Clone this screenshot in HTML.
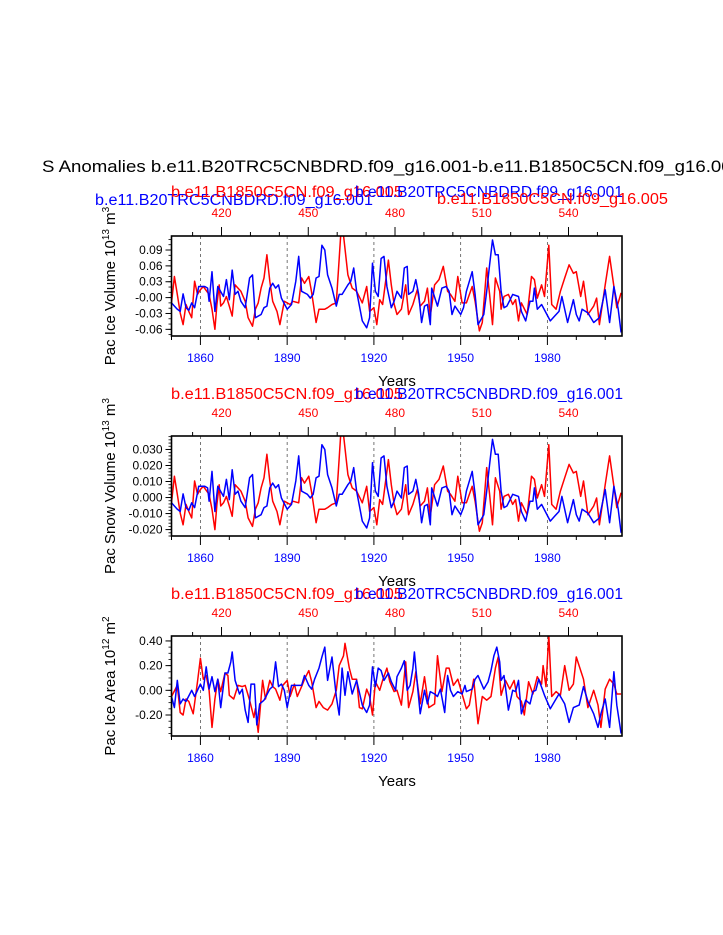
<!DOCTYPE html>
<html><head><meta charset="utf-8"><style>
html,body{margin:0;padding:0;background:#fff;overflow:hidden;}
svg{display:block;font-family:"Liberation Sans",Arial,sans-serif;}
</style></head><body>
<svg id="c" width="723" height="935" viewBox="0 0 723 935" xmlns="http://www.w3.org/2000/svg">
<text x="42" y="172" font-size="17" fill="#000" textLength="700" lengthAdjust="spacingAndGlyphs">S Anomalies b.e11.B20TRC5CNBDRD.f09_g16.001-b.e11.B1850C5CN.f09_g16.005</text>
</svg>
<script>
// ---------- data ----------
const bottomTicks = [1860, 1890, 1920, 1950, 1980];
const topTicks = [420, 450, 480, 510, 540];
const iceTicks = [0.09, 0.06, 0.03, 0.00, -0.03, -0.06];
const iceTickLabels = ["0.09", "0.06", "0.03", "-0.00", "-0.03", "-0.06"];
const snowTicks = [0.03, 0.02, 0.01, 0.0, -0.01, -0.02];
const snowTickLabels = ["0.030", "0.020", "0.010", "0.000", "-0.010", "-0.020"];
const areaTicks = [0.4, 0.2, 0.0, -0.2];
const areaTickLabels = ["0.40", "0.20", "0.00", "-0.20"];

const blueYears = [1850,1852,1853,1854,1855,1856,1857,1858,1859.4,1861.5,1862.5,1863,1864,1865,1866,1868,1869,1870,1871,1872,1873,1874,1875.5,1877,1878,1879,1881,1882,1883,1884,1885,1886,1887,1888,1890,1891.5,1893,1894,1895,1897,1898,1899,1900,1901,1902,1903,1904,1905.5,1907,1908,1909,1911,1912,1913,1914,1916,1917.5,1918.5,1919.5,1920.5,1921.5,1922.5,1923.5,1924.5,1926,1927,1928,1929.5,1930.5,1931.5,1932,1933.5,1934.5,1935.5,1936.5,1937.5,1938.5,1939.5,1940,1942,1943.5,1945,1946,1947,1948,1950,1951,1952,1954,1955,1956,1958,1959,1960,1961,1962,1963,1964,1965,1966,1968,1970,1971,1972.5,1974,1975,1975.5,1976.5,1978,1981,1982.5,1984,1985,1987,1989,1990,1991,1992,1994,1996,1998,2000,2001.5,2003,2004.5,2005.5];
const iceBlue = [-0.010,-0.022,-0.026,0.007,-0.019,-0.024,-0.010,-0.019,0.021,0.021,0.018,-0.007,0.049,-0.026,0.021,0.002,0.034,-0.004,0.052,0.006,0.012,-0.007,-0.019,0.037,0.043,-0.038,-0.032,-0.019,-0.016,0.018,0.027,0.018,0.024,-0.001,-0.022,-0.013,0.031,0.078,0.012,0.006,-0.001,0.006,0.037,0.040,0.099,0.090,0.043,0.018,-0.016,0.006,0.006,0.024,0.031,0.056,0.012,-0.044,-0.057,-0.038,0.065,0.012,0.002,0.074,0.078,0.021,-0.019,-0.007,0.012,-0.001,0.056,0.059,0.006,0.012,0.034,0.006,-0.047,-0.016,-0.013,-0.051,0.018,-0.016,0.018,0.021,0.012,-0.032,-0.016,-0.032,-0.019,0.012,0.049,0.006,-0.051,-0.032,0.012,0.062,0.109,0.081,0.081,0.012,-0.019,-0.016,0.006,0.002,-0.026,-0.044,-0.007,-0.007,0.018,-0.022,-0.013,-0.044,-0.035,-0.026,0.002,-0.047,-0.004,-0.032,-0.044,-0.022,-0.029,-0.047,-0.038,0.015,-0.047,0.021,-0.022,-0.066];
const snowBlue = [-0.0033,-0.0073,-0.0087,0.0023,-0.0063,-0.008,-0.0033,-0.0063,0.007,0.007,0.006,-0.0023,0.0163,-0.0087,0.007,0.0007,0.0113,-0.0013,0.0173,0.002,0.004,-0.0023,-0.0063,0.0123,0.0143,-0.0127,-0.0107,-0.0063,-0.0053,0.006,0.009,0.006,0.008,-0.0003,-0.0073,-0.0043,0.0103,0.026,0.004,0.002,-0.0003,0.002,0.0123,0.0133,0.033,0.030,0.0143,0.006,-0.0053,0.002,0.002,0.008,0.0103,0.0187,0.004,-0.0147,-0.019,-0.0127,0.0217,0.004,0.0007,0.0247,0.026,0.007,-0.0063,-0.0023,0.004,-0.0003,0.0187,0.0197,0.002,0.004,0.0113,0.002,-0.0157,-0.0053,-0.0043,-0.017,0.006,-0.0053,0.006,0.007,0.004,-0.0107,-0.0053,-0.0107,-0.0063,0.004,0.0163,0.002,-0.017,-0.0107,0.004,0.0207,0.0363,0.027,0.027,0.004,-0.0063,-0.0053,0.002,0.0007,-0.0087,-0.0147,-0.0023,-0.0023,0.006,-0.0073,-0.0043,-0.0147,-0.0117,-0.0087,0.0007,-0.0157,-0.0013,-0.0107,-0.0147,-0.0073,-0.0097,-0.0157,-0.0127,0.005,-0.0157,0.007,-0.0073,-0.022];

const redYears = [1850,1851,1852,1853,1854,1855,1856,1857,1858,1859,1860,1861,1863,1864,1865,1865.7,1866.5,1867,1868,1869,1870,1871,1872,1873,1874,1875.5,1876.5,1878,1879,1880,1881,1882,1883,1884,1885,1886.5,1887.5,1889,1890,1891,1892,1894,1895,1896,1897.5,1898.5,1900,1901,1903,1904,1905.5,1907,1908,1908.5,1909.5,1911,1912.5,1914,1916,1917.5,1918.5,1920,1921,1922,1923,1925,1926,1927,1928,1929.5,1931,1932,1933.5,1935,1936,1937.5,1938.5,1939.5,1941,1942.5,1944,1945.5,1946.5,1948,1949,1950.5,1952,1954,1955,1956.5,1957.5,1959,1960,1961,1962,1963.5,1964,1965,1966.5,1968,1969,1970,1971,1973,1974.5,1975.5,1976.5,1978,1979,1980.5,1981.5,1983,1984.5,1986,1987.5,1989,1990,1991.5,1992.5,1994,1996,1997,1998,2000,2001.5,2003,2004,2005.5];
const iceRed = [-0.010,0.040,0.006,-0.029,-0.051,-0.013,-0.026,-0.038,0.031,0.006,0.015,0.021,0.006,-0.022,-0.060,-0.013,0.024,-0.016,-0.010,0.002,-0.016,-0.035,0.024,0.018,0.012,-0.007,-0.038,-0.054,-0.022,-0.010,0.018,0.037,0.081,0.031,-0.007,-0.026,-0.051,-0.007,-0.010,-0.013,-0.007,-0.010,0.037,0.027,0.040,0.009,-0.047,-0.022,-0.022,-0.019,-0.013,-0.010,0.074,0.118,0.118,0.043,0.018,0.012,-0.010,0.021,-0.026,-0.019,-0.051,-0.004,-0.013,0.071,0.024,-0.012,-0.032,-0.022,0.024,-0.032,-0.013,0.015,-0.016,-0.007,0.018,-0.035,0.024,0.034,0.059,0.012,0.006,-0.007,0.040,-0.010,-0.010,0.021,-0.007,-0.063,-0.047,0.056,0.006,-0.051,0.037,0.012,-0.022,0.002,0.006,-0.013,-0.004,-0.044,-0.010,-0.032,0.040,0.034,-0.001,0.024,0.002,0.099,-0.013,-0.022,0.012,0.037,0.062,0.046,0.049,0.002,0.031,-0.032,-0.016,-0.001,-0.051,0.024,0.078,0.021,-0.019,0.009];
const snowRed = [-0.0033,0.0133,0.002,-0.0097,-0.017,-0.0043,-0.0087,-0.0127,0.0103,0.002,0.005,0.007,0.002,-0.0073,-0.020,-0.0043,0.008,-0.0053,-0.0033,0.0007,-0.0053,-0.0117,0.008,0.006,0.004,-0.0023,-0.0127,-0.018,-0.0073,-0.0033,0.006,0.0123,0.027,0.0103,-0.0023,-0.0087,-0.017,-0.0023,-0.0033,-0.0043,-0.0023,-0.0033,0.0123,0.009,0.0133,0.003,-0.0157,-0.0073,-0.0073,-0.0063,-0.0043,-0.0033,0.0247,0.0393,0.0393,0.0143,0.006,0.004,-0.0033,0.007,-0.0087,-0.0063,-0.017,-0.0013,-0.0043,0.0237,0.008,-0.004,-0.0107,-0.0073,0.008,-0.0107,-0.0043,0.005,-0.0053,-0.0023,0.006,-0.0117,0.008,0.0113,0.0197,0.004,0.002,-0.0023,0.0133,-0.0033,-0.0033,0.007,-0.0023,-0.021,-0.0157,0.0187,0.002,-0.017,0.0123,0.004,-0.0073,0.0007,0.002,-0.0043,-0.0013,-0.0147,-0.0033,-0.0107,0.0133,0.0113,-0.0003,0.008,0.0007,0.033,-0.0043,-0.0073,0.004,0.0123,0.0207,0.0153,0.0163,0.0007,0.0103,-0.0107,-0.0053,-0.0003,-0.017,0.008,0.026,0.007,-0.0063,0.003];

const areaBlueYears = [1850,1851,1852,1853,1854,1855,1857,1858,1860,1861,1862,1863,1864,1865,1866,1867,1868.5,1869.5,1870.5,1871,1872,1873.5,1874.5,1875.5,1876.5,1877.5,1878.7,1879.5,1880.5,1882,1884,1885,1886,1887,1888,1889,1890,1891.5,1893,1895,1896,1897.5,1898.5,1899.5,1901,1902,1903,1904,1905.5,1907,1908,1909,1910,1911,1912.5,1914,1916,1917.5,1918.5,1919.5,1920.5,1921.5,1922.5,1923.5,1925,1926,1927.5,1928,1929.5,1930.5,1931.5,1932.5,1933.5,1934,1935,1936,1937.5,1938.5,1939.5,1941,1942,1943,1944.5,1945.5,1946.5,1947.5,1949,1950.5,1951.5,1952,1954,1955,1956,1958,1959.5,1960.5,1961.5,1962.5,1963.5,1964,1965,1966.5,1968,1969,1970,1971,1972.5,1974,1975,1976,1977,1979,1981,1982.5,1984,1986,1987.5,1989,1991,1992.5,1994,1996,1997.5,1998.5,2000,2001.5,2003,2004,2005.5];
const areaBlue = [-0.05,-0.14,0.08,-0.11,-0.07,-0.09,0.00,-0.05,0.05,0.00,0.19,0.01,0.11,-0.01,0.09,-0.14,0.14,0.14,0.23,0.31,0.08,-0.03,0.01,-0.16,-0.26,0.05,0.05,-0.28,-0.11,-0.08,0.01,0.03,0.23,0.03,0.05,0.00,-0.14,0.04,0.04,0.04,0.12,0.04,0.01,0.09,0.18,0.27,0.35,0.08,0.27,-0.05,-0.20,0.18,-0.04,0.15,-0.03,0.08,-0.12,-0.18,-0.12,0.19,0.03,0.18,0.16,0.08,0.14,0.07,0.00,0.11,0.18,0.24,0.00,0.04,0.18,0.31,0.05,-0.19,0.00,-0.11,-0.01,-0.03,-0.05,0.01,-0.18,0.12,0.00,-0.05,-0.01,-0.03,0.04,-0.01,0.01,0.09,0.12,0.01,0.07,0.16,0.28,0.35,0.23,0.08,0.12,-0.16,0.00,-0.01,0.08,-0.19,-0.08,-0.11,-0.01,0.00,0.09,-0.04,-0.15,-0.09,-0.03,-0.11,-0.26,-0.14,-0.12,0.03,-0.09,-0.19,-0.30,-0.19,-0.07,-0.30,0.15,-0.12,-0.35];
const areaRedYears = [1850,1852,1853,1854,1855,1856,1857.5,1859,1860,1861,1862,1863,1864,1865,1866,1867,1868.5,1869.5,1870,1871.5,1873,1874.5,1875.5,1877,1878.5,1879,1880,1881.5,1882.5,1884,1885,1886,1887.5,1888.5,1890,1891,1892.5,1893.5,1895,1896,1897.5,1898.5,1900,1901,1902.5,1904,1905.5,1907,1908,1909.5,1910,1911.5,1912.5,1914,1915,1916,1917.5,1918.5,1919.5,1920.5,1922,1923,1924.5,1925.5,1927,1928,1929.5,1931,1932,1933.5,1934.5,1936,1937.5,1939,1941,1942,1943.5,1945,1946,1947.5,1949,1950.5,1952,1953,1954.5,1956,1957.5,1959,1960.5,1962,1963,1964,1965.5,1967,1968.5,1969.5,1971,1972,1973.5,1975,1976.5,1978,1978.5,1979.5,1980.5,1981.5,1983,1984.5,1986,1987.5,1989,1990,1991.5,1992.5,1994,1996,1997.5,1998.5,2000,2001.5,2003,2004,2005.5];
const areaRed = [-0.05,0.04,-0.18,-0.20,-0.07,-0.09,-0.19,0.07,0.26,0.09,0.12,0.00,-0.30,-0.07,0.09,-0.01,0.14,0.12,-0.04,-0.07,0.04,0.03,0.04,-0.08,-0.22,-0.15,-0.34,0.08,-0.07,0.08,0.03,0.01,-0.08,0.04,0.08,-0.05,0.05,-0.05,0.03,0.09,0.16,0.07,-0.14,-0.09,-0.14,-0.16,-0.11,0.00,0.20,0.28,0.38,0.18,0.09,0.09,-0.14,-0.15,0.01,-0.05,-0.20,0.07,0.00,0.08,0.18,0.07,-0.01,0.00,-0.12,0.23,-0.14,-0.01,0.15,-0.11,0.11,-0.14,-0.11,0.28,-0.01,0.18,0.18,0.04,0.09,-0.03,-0.15,-0.12,0.09,-0.27,-0.05,-0.08,-0.05,0.18,0.27,-0.04,0.08,0.01,0.08,-0.05,-0.09,-0.20,0.07,-0.03,0.11,0.05,0.20,0.03,0.45,-0.05,-0.01,-0.04,0.20,0.00,0.05,0.27,0.16,0.09,-0.14,0.00,-0.12,-0.30,0.01,0.09,0.05,-0.03,-0.03];

// ---------- drawing ----------
const NS = "http://www.w3.org/2000/svg";
const svg = document.getElementById("c");
const X0 = 171.5, X1 = 622;
const YR0 = 1850, YR1 = 2005.8;
function xYear(y){ return X0 + (y - YR0) / (YR1 - YR0) * (X1 - X0); }
function xTop(v){ return xYear(v - 420 + 1867.3); }
function mk(tag, attrs, parent){
  const e = document.createElementNS(NS, tag);
  for (const k in attrs) e.setAttribute(k, attrs[k]);
  (parent || svg).appendChild(e);
  return e;
}

const panels = [
  {key:"ice", top:236, bot:336, vmin:-0.0726, vmax:0.1165, ticks:iceTicks, labels:iceTickLabels, minor:0.01,
   blue:iceBlue, red:iceRed, bYears:blueYears, rYears:redYears, unitExp:"13", unit:"3", label:"Pac Ice Volume 10",
   heads:[["b.e11.B20TRC5CNBDRD.f09_g16.001","#0000ff",95,205,278],["b.e11.B1850C5CN.f09_g16.005","#ff0000",171,197,232],["b.e11.B20TRC5CNBDRD.f09_g16.001","#0000ff",355,197,268],["b.e11.B1850C5CN.f09_g16.005","#ff0000",437,204,231]]},
  {key:"snow", top:436, bot:536, vmin:-0.0240, vmax:0.0384, ticks:snowTicks, labels:snowTickLabels, minor:0.002,
   blue:snowBlue, red:snowRed, bYears:blueYears, rYears:redYears, unitExp:"13", unit:"3", label:"Pac Snow Volume 10",
   heads:[["b.e11.B1850C5CN.f09_g16.005","#ff0000",171,399,232],["b.e11.B20TRC5CNBDRD.f09_g16.001","#0000ff",355,399,268]]},
  {key:"area", top:636, bot:736, vmin:-0.37, vmax:0.44, ticks:areaTicks, labels:areaTickLabels, minor:0.05,
   blue:areaBlue, red:areaRed, bYears:areaBlueYears, rYears:areaRedYears, unitExp:"12", unit:"2", label:"Pac Ice Area 10",
   heads:[["b.e11.B1850C5CN.f09_g16.005","#ff0000",171,599,232],["b.e11.B20TRC5CNBDRD.f09_g16.001","#0000ff",355,599,268]]}
];

panels.forEach(function(p){
  const g = mk("g", {});
  
  
  function yv(v){ return p.bot - (v - p.vmin) / (p.vmax - p.vmin) * (p.bot - p.top); }
  p.heads.forEach(function(h){
    const t = mk("text", {x:h[2], y:h[3], "font-size":15.5, fill:h[1], textLength:h[4], lengthAdjust:"spacingAndGlyphs"}, g);
    t.textContent = h[0];
    
    
  });
  const cp = mk("clipPath", {id:"clip-" + p.key}, g);
  mk("rect", {x:X0, y:p.top, width:X1 - X0, height:p.bot - p.top}, cp);
  bottomTicks.forEach(function(yr){
    const l = mk("line", {x1:xYear(yr), x2:xYear(yr), y1:p.top, y2:p.bot, stroke:"#555", "stroke-width":0.8, "stroke-dasharray":"3,3"}, g);
    
    
  });
  [["red", p.rYears, p.red, "#ff0000"], ["blue", p.bYears, p.blue, "#0000ff"]].forEach(function(s){
    let d = "";
    s[1].forEach(function(yr, i){ d += (i ? "L" : "M") + xYear(yr).toFixed(1) + "," + yv(s[2][i]).toFixed(1); });
    const path = mk("path", {d:d, fill:"none", stroke:s[3], "stroke-width":1.5, "stroke-linejoin":"round", "clip-path":"url(#clip-" + p.key + ")"}, g);
    
    
  });
  const fr = mk("rect", {x:X0, y:p.top, width:X1 - X0, height:p.bot - p.top, fill:"none", stroke:"#000", "stroke-width":1.6}, g);
  
  
  for (let yr = 1850; yr <= 2005; yr += 10){
    const major = bottomTicks.indexOf(yr) >= 0;
    mk("line", {x1:xYear(yr), x2:xYear(yr), y1:p.bot, y2:p.bot + (major ? 9 : 4), stroke:"#000", "stroke-width":1}, g);
  }
  bottomTicks.forEach(function(yr){
    const t = mk("text", {x:xYear(yr), y:p.bot + 26, "font-size":12, fill:"#0000ff", "text-anchor":"middle"}, g);
    t.textContent = yr;
    
    
  });
  for (let v = 400; v <= 560; v += 10){
    const xx = xTop(v);
    if (xx < X0 - 0.5 || xx > X1 + 0.5) continue;
    const major = topTicks.indexOf(v) >= 0;
    mk("line", {x1:xx, x2:xx, y1:p.top, y2:p.top - (major ? 9 : 4), stroke:"#000", "stroke-width":1}, g);
  }
  topTicks.forEach(function(v){
    const t = mk("text", {x:xTop(v), y:p.top - 19, "font-size":12, fill:"#ff0000", "text-anchor":"middle"}, g);
    t.textContent = v;
    
    
  });
  for (let v = Math.ceil(p.vmin / p.minor) * p.minor; v <= p.vmax + 1e-9; v += p.minor){
    const yy = yv(v);
    mk("line", {x1:X0, x2:X0 - 3, y1:yy, y2:yy, stroke:"#000", "stroke-width":0.8}, g);
  }
  p.ticks.forEach(function(v, i){
    const yy = yv(v);
    mk("line", {x1:X0, x2:X0 - 6, y1:yy, y2:yy, stroke:"#000", "stroke-width":1}, g);
    const t = mk("text", {x:X0 - 9, y:yy + 4, "font-size":12, fill:"#000", "text-anchor":"end"}, g);
    t.textContent = p.labels[i];
    
    
  });
  const xt = mk("text", {x:397, y:p.bot + 50, "font-size":15, fill:"#000", "text-anchor":"middle"}, g);
  xt.textContent = "Years";
  
  
  const cy = (p.top + p.bot) / 2;
  const yt = mk("text", {x:0, y:0, "font-size":15, fill:"#000", "text-anchor":"middle", transform:"translate(115," + cy + ") rotate(-90)"}, g);
  
  
  const s1 = mk("tspan", {}, yt); s1.textContent = p.label;
  const s2 = mk("tspan", {dy:-6, "font-size":10}, yt); s2.textContent = p.unitExp;
  const s3 = mk("tspan", {dy:6}, yt); s3.textContent = " m";
  const s4 = mk("tspan", {dy:-6, "font-size":10}, yt); s4.textContent = p.unit;
});
</script>
</body></html>
